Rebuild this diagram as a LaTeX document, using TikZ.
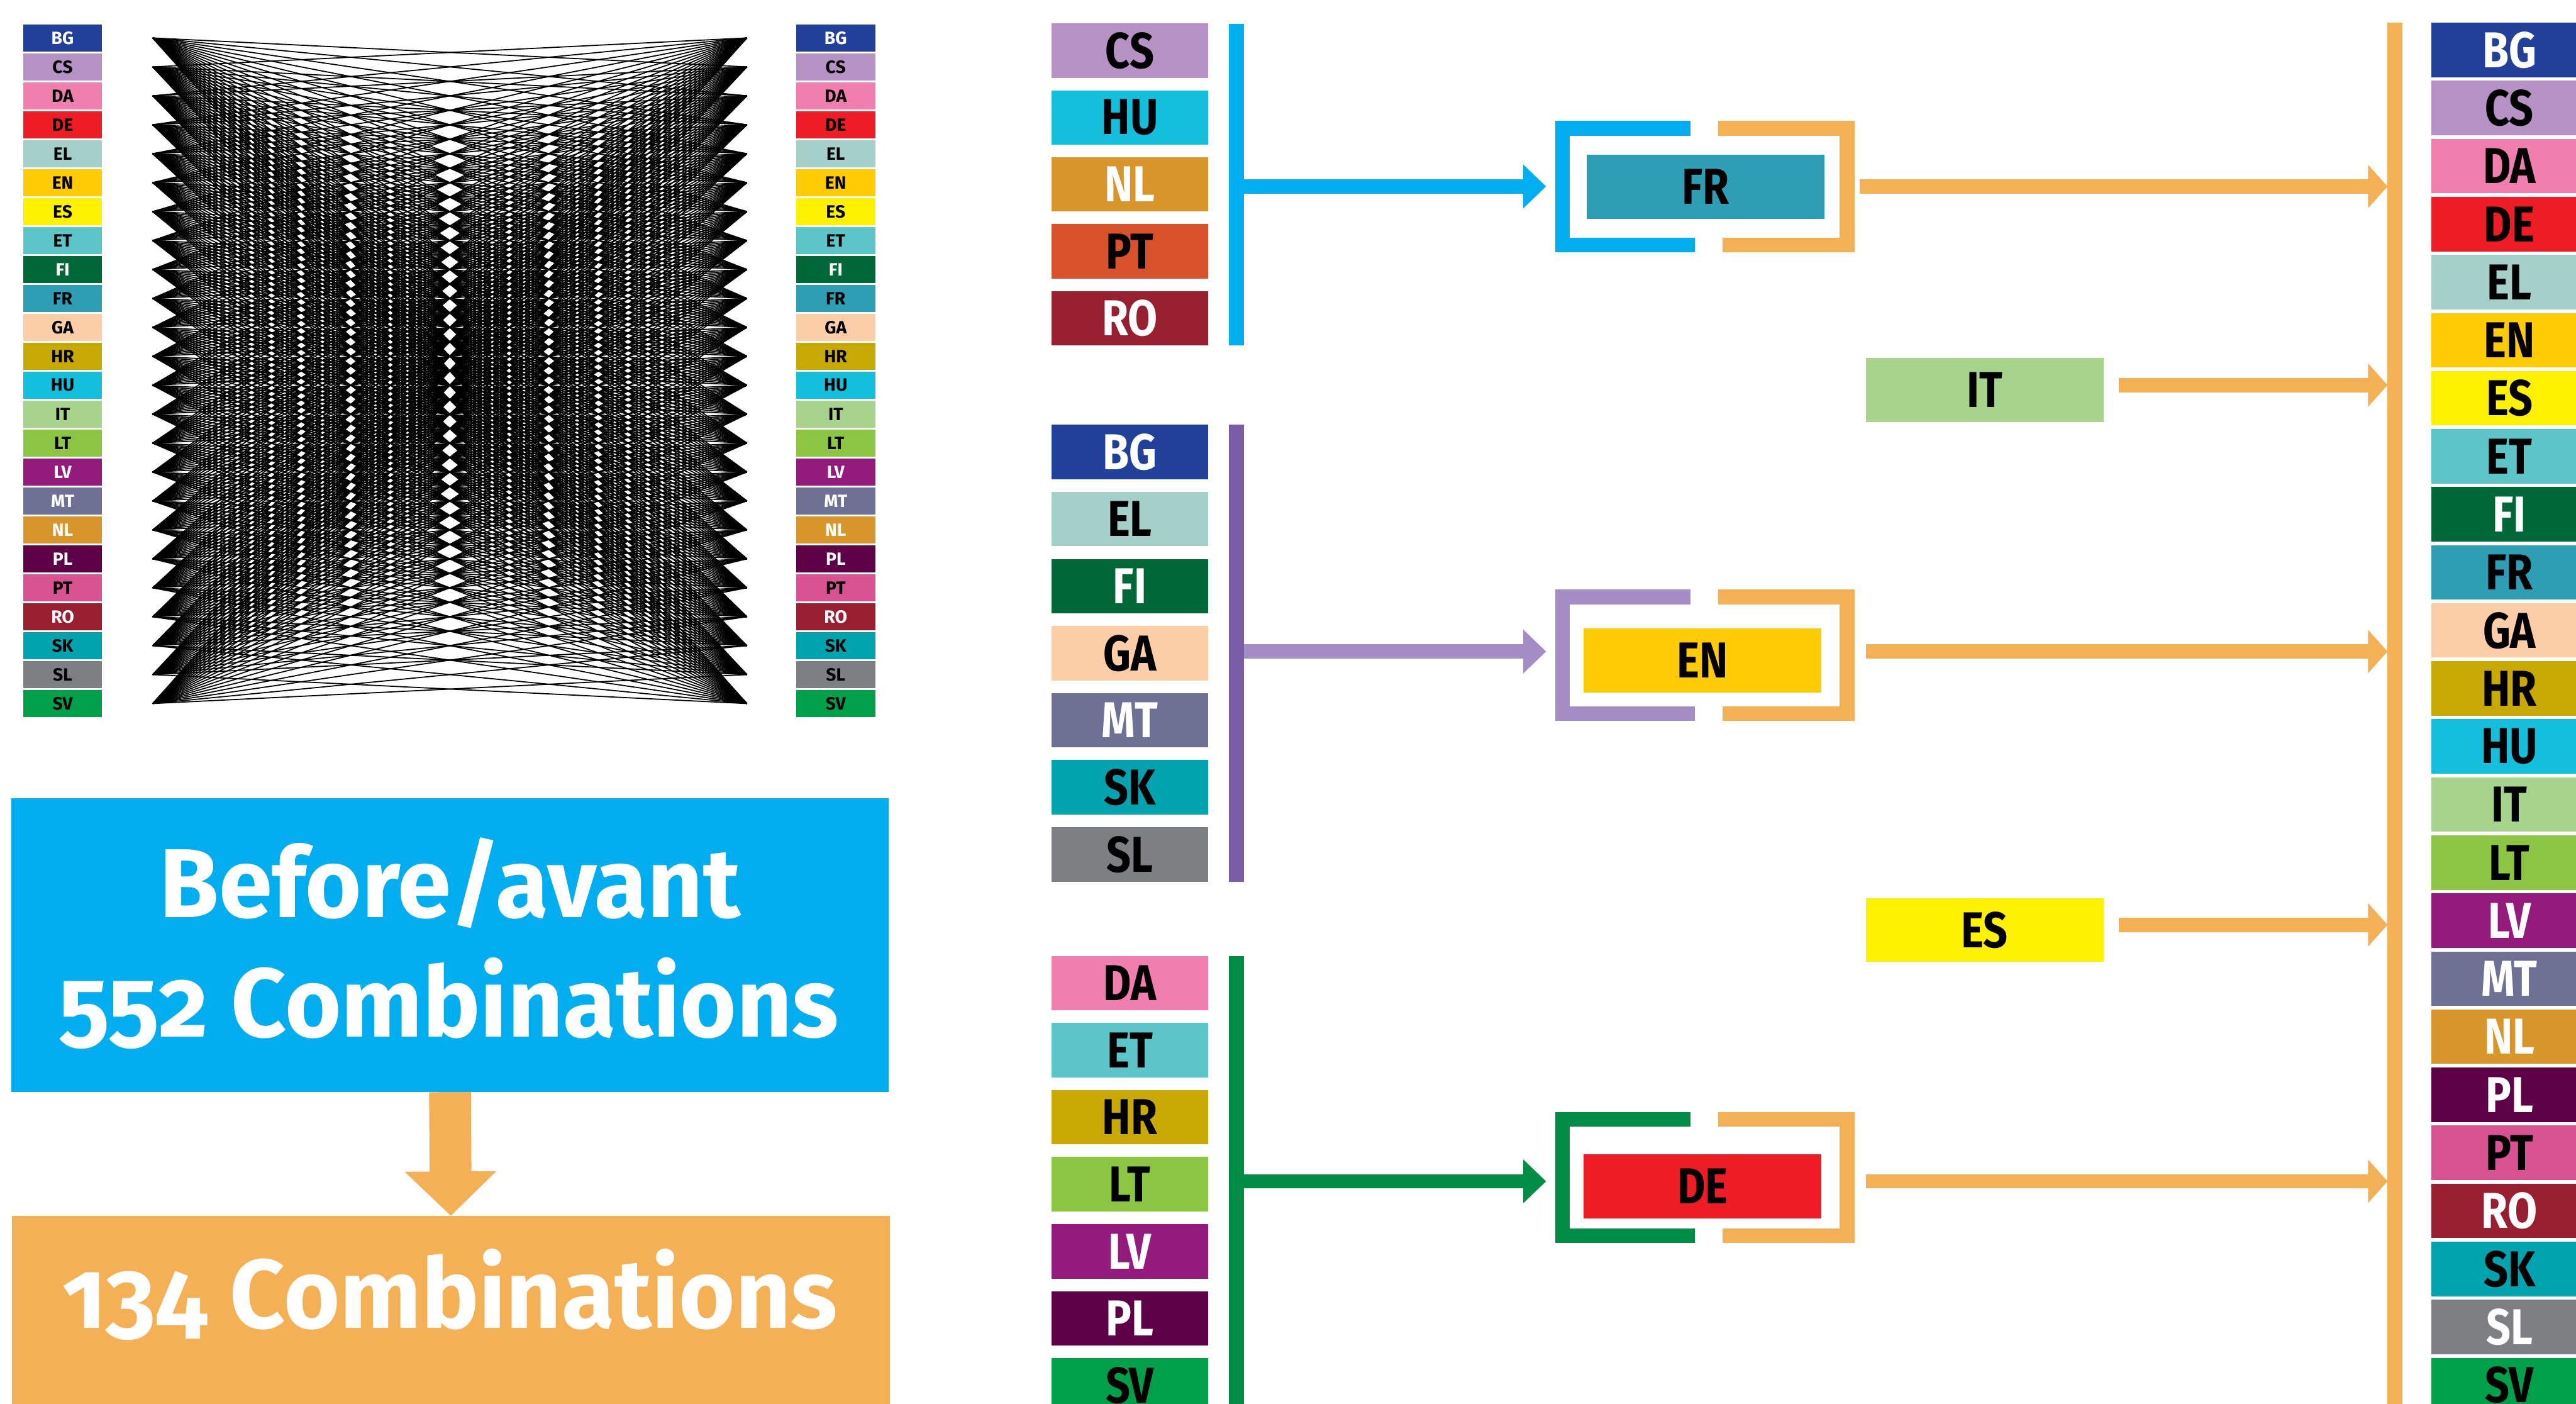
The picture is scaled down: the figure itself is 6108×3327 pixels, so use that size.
\documentclass[tikz,border=0pt]{standalone}
\usepackage{fontspec}
\setmainfont{Fira Sans}[Numbers=OldStyle]
\newfontfamily\condfont{Fira Sans}[FakeStretch=0.85]
\newfontfamily\titlefont{Fira Sans}[Numbers=OldStyle,FakeStretch=0.985]
\usetikzlibrary{arrows.meta,positioning}
\definecolor{cBG}{HTML}{21409A}
\definecolor{cCS}{HTML}{B592C3}
\definecolor{cDA}{HTML}{F07FB0}
\definecolor{cDE}{HTML}{EE1C25}
\definecolor{cEL}{HTML}{A4D0C9}
\definecolor{cEN}{HTML}{FFCB05}
\definecolor{cES}{HTML}{FFF200}
\definecolor{cET}{HTML}{5BC5C7}
\definecolor{cFI}{HTML}{006838}
\definecolor{cFR}{HTML}{2E9EB5}
\definecolor{cGA}{HTML}{FBCEA8}
\definecolor{cHR}{HTML}{C8A902}
\definecolor{cHU}{HTML}{14BFDB}
\definecolor{cIT}{HTML}{A8D38A}
\definecolor{cLT}{HTML}{8BC541}
\definecolor{cLV}{HTML}{921B7C}
\definecolor{cMT}{HTML}{6E7094}
\definecolor{cNL}{HTML}{D8962A}
\definecolor{cPL}{HTML}{5E0045}
\definecolor{cPT}{HTML}{D65290}
\definecolor{cPTsrc}{HTML}{D9522B}
\definecolor{cRO}{HTML}{981F30}
\definecolor{cSK}{HTML}{00A3AE}
\definecolor{cSL}{HTML}{7E7F82}
\definecolor{cSV}{HTML}{009F4A}
\definecolor{eublue}{HTML}{00AEEF}
\definecolor{eupurple}{HTML}{A48CC4}
\definecolor{eupurpledk}{HTML}{7B5CA7}
\definecolor{eugreen}{HTML}{008C44}
\definecolor{euorange}{HTML}{F4B055}
% bracket round a pivot language: #1 colour, #2/#3 y of top/bottom bar
\newcommand{\hubbracket}[3]{%
  \draw[#1,line width=0.35cm] (4009,#2) -- (3704.5,#2) -- (3704.5,#3) -- (4019,#3);
  \draw[euorange,line width=0.35cm] (4074,#2) -- (4379.5,#2) -- (4379.5,#3) -- (4084,#3);}

\begin{document}
\begin{tikzpicture}[x=0.01cm,y=-0.01cm,
  meshlab/.style={rectangle,inner sep=0,minimum width=1.87cm,minimum height=0.64cm,font=\bfseries\fontsize{12}{12}\selectfont},
  srclab/.style={rectangle,inner sep=0,minimum width=3.7cm,minimum height=1.29cm,font=\condfont\bfseries\fontsize{34}{34}\selectfont},
  tgtlab/.style={srclab,minimum width=3.7cm},
  hub/.style={srclab,minimum width=5.64cm,minimum height=1.52cm,text=black},
  meshline/.style={line width=0.75pt,black},
  grouparrow/.style={line width=0.34cm,-{Triangle[length=0.54cm,width=1cm]}},
  outarrow/.style={euorange,line width=0.34cm,-{Triangle[length=0.46cm,width=1cm]}},
  bigbox/.style={rectangle,inner sep=0,minimum width=20.8cm},
  bigtext/.style={text=white,inner sep=0,font=\titlefont\bfseries\fontsize{66}{66}\selectfont}]
\clip (0,0) rectangle (6108,3327);

% all pairs before
\foreach \l/\t [count=\i from 0] in {BG/white,CS/black,DA/black,DE/black,EL/black,EN/black,ES/black,ET/black,FI/white,FR/black,GA/black,HR/black,HU/black,IT/black,LT/black,LV/white,MT/white,NL/white,PL/white,PT/black,RO/white,SK/black,SL/black,SV/black}{
   \node[meshlab,fill=c\l,text=\t] (ml\l) at (148.5,90+68.6*\i) {\l};
   \node[meshlab,fill=c\l,text=\t] (mr\l) at (1981.5,90+68.6*\i) {\l};
   \coordinate (pl\i) at (362,90+68.6*\i);
   \coordinate (pr\i) at (1771,90+68.6*\i);
}
\foreach \i in {0,...,23}{\foreach \j in {0,...,23}{\ifnum\i=\j\relax\else\draw[meshline] (pl\i) -- (pr\j);\fi}}

\node[bigbox,fill=eublue,minimum height=6.96cm] (before) at (1067,2240) {};
\node[bigtext,anchor=base] (beforeA) at (1067,2175) {Before/avant};
\node[bigtext,anchor=base] (beforeB) at (1064,2458) {552 Combinations};
\node[bigbox,fill=euorange,minimum height=5.2cm] (after) at (1069,3143) {};
\node[bigtext,anchor=base] (afterA) at (1067,3148) {134 Combinations};
\draw[euorange,line width=0.99cm,-{Triangle[length=1.05cm,width=2.11cm]}] (before.south) -- (after.north);

% source groups
\foreach \l/\c/\t [count=\i from 0] in {CS/cCS/black,HU/cHU/black,NL/cNL/white,PT/cPTsrc/black,RO/cRO/white}
   \node[srclab,fill=\c,text=\t] (s\l) at (2679,120+158.6*\i) {\l};
\foreach \l/\t [count=\i from 0] in {BG/white,EL/black,FI/white,GA/black,MT/white,SK/black,SL/black}
   \node[srclab,fill=c\l,text=\t] (s\l) at (2679,1071.5+159*\i) {\l};
\foreach \l/\t [count=\i from 0] in {DA/black,ET/black,HR/black,LT/black,LV/white,PL/white,SV/black}
   \node[srclab,fill=c\l,text=\t] (s\l) at (2679,2330.5+159*\i) {\l};

\coordinate (barAtop) at (2931.5,56);   \coordinate (barAbot) at (2931.5,819);
\coordinate (barBtop) at (2931.5,1007); \coordinate (barBbot) at (2931.5,2090);
\coordinate (barCtop) at (2931.5,2267); \coordinate (barCbot) at (2931.5,3340);
\draw[eublue,line width=0.35cm] (barAtop) -- (barAbot);
\draw[eupurpledk,line width=0.35cm] (barBtop) -- (barBbot);
\draw[eugreen,line width=0.35cm] (barCtop) -- (barCbot);

% pivot languages
\node[hub,fill=cFR] (hFR) at (4044,443) {FR};
\node[hub,fill=cEN] (hEN) at (4037,1565.5) {EN};
\node[hub,fill=cDE] (hDE) at (4037,2812) {DE};
\hubbracket{eublue}{304}{580.5}
\hubbracket{eupurple}{1415.5}{1691.5}
\hubbracket{eugreen}{2653.5}{2929.5}
\coordinate (outA) at (2949,442);    \coordinate (inA) at (3666,442);
\coordinate (outB) at (2949,1544.5); \coordinate (inB) at (3666,1544.5);
\coordinate (outC) at (2949,2800.5); \coordinate (inC) at (3666,2800.5);
\draw[grouparrow,eublue] (outA) -- (inA);
\draw[grouparrow,eupurple] (outB) -- (inB);
\draw[grouparrow,eugreen] (outC) -- (inC);

\node[hub,fill=cIT,minimum height=1.51cm] (hIT) at (4706,924.5) {IT};
\node[hub,fill=cES,minimum height=1.51cm] (hES) at (4706,2204.5) {ES};

% all 24 targets
\coordinate (tbartop) at (5678.5,54); \coordinate (tbarbot) at (5678.5,3340);
\draw[euorange,line width=0.35cm] (tbartop) -- (tbarbot);
\foreach \l/\t [count=\i from 0] in {BG/white,CS/black,DA/black,DE/black,EL/black,EN/black,ES/black,ET/black,FI/white,FR/black,GA/black,HR/black,HU/black,IT/black,LT/black,LV/white,MT/white,NL/white,PL/white,PT/black,RO/white,SK/black,SL/white,SV/black}
   \node[tgtlab,fill=c\l,text=\t] (t\l) at (5950,118.5+137.6*\i) {\l};

\coordinate (fromFR) at (4409,442);    \coordinate (toFR) at (5661,442);
\coordinate (fromIT) at (5024,913);    \coordinate (toIT) at (5661,913);
\coordinate (fromEN) at (4425,1544.5); \coordinate (toEN) at (5661,1544.5);
\coordinate (fromES) at (5024,2192.5); \coordinate (toES) at (5661,2192.5);
\coordinate (fromDE) at (4425,2800.5); \coordinate (toDE) at (5661,2800.5);
\foreach \h in {FR,IT,EN,ES,DE} \draw[outarrow] (from\h) -- (to\h);
\end{tikzpicture}
\end{document}
